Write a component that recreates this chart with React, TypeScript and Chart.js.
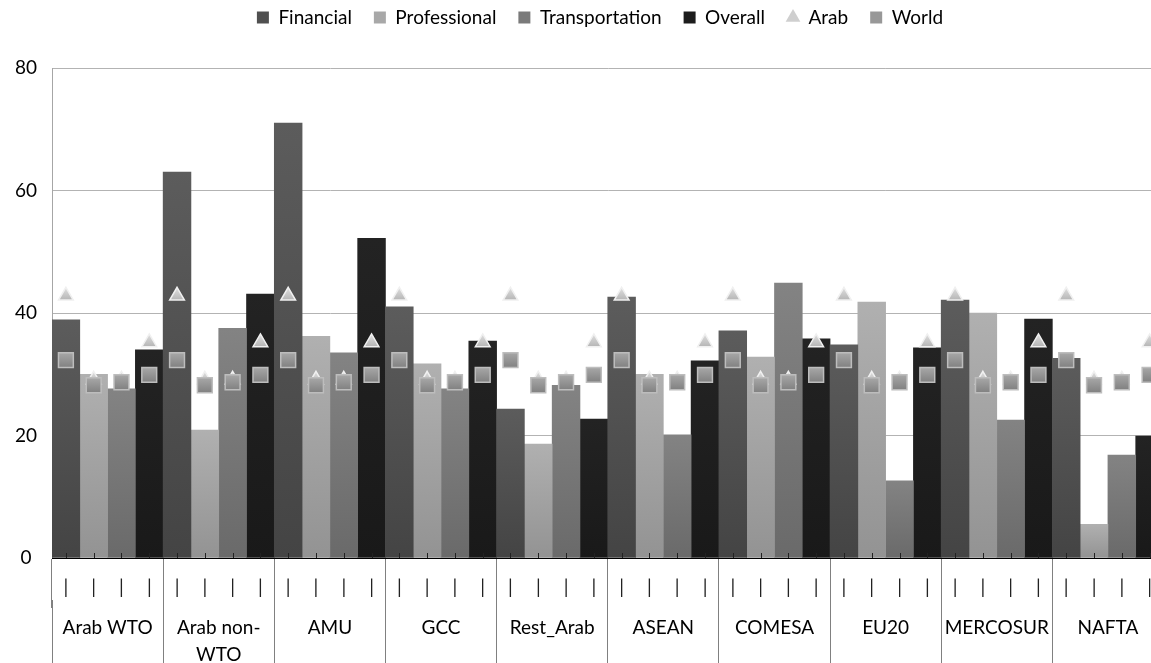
import React, { useEffect, useRef } from 'react';
import { Chart, registerables } from 'chart.js';

Chart.register(...registerables);

// ---- data ----
const groups: (string | string[])[] = [
  'Arab WTO', ['Arab non-', 'WTO'], 'AMU', 'GCC', 'Rest_Arab',
  'ASEAN', 'COMESA', 'EU20', 'MERCOSUR', 'NAFTA',
];
const sectorTicks = ['|', '|', '|', '|'];
const financial = [38.9, 63.0, 71.0, 41.0, 24.3, 42.6, 37.1, 34.8, 42.1, 32.6];
const professional = [30.0, 20.9, 36.2, 31.7, 18.6, 30.0, 32.8, 41.8, 40.0, 5.5];
const transportation = [27.6, 37.5, 33.5, 27.6, 28.2, 20.1, 44.9, 12.6, 22.5, 16.8];
const overall = [34.0, 43.1, 52.2, 35.4, 22.7, 32.2, 35.8, 34.3, 39.0, 19.9];
const arabBySector = [42.8, 29.1, 29.1, 35.2];
const worldBySector = [32.3, 28.2, 28.7, 29.9];
const yTicks = [0, 20, 40, 60, 80];

const FONT = 'Lato, "Open Sans", sans-serif';

// sub-category labels (4 per group)
const labels: string[] = [];
groups.forEach(() => sectorTicks.forEach((t) => labels.push(t)));

function bySlot(values: number[], slot: number): (number | null)[] {
  const out: (number | null)[] = [];
  values.forEach((v) => {
    for (let s = 0; s < 4; s++) out.push(s === slot ? v : null);
  });
  return out;
}
function repeatSectors(values: number[]): number[] {
  const out: number[] = [];
  groups.forEach(() => values.forEach((v) => out.push(v)));
  return out;
}

function barGrad(top: string, bottom: string) {
  return (ctx: any) => {
    const chart = ctx.chart;
    if (!chart.chartArea || ctx.type !== 'data' || ctx.raw == null) return bottom;
    const ys = chart.scales.y;
    const y1 = ys.getPixelForValue(ctx.raw);
    const y0 = ys.getPixelForValue(0);
    if (!isFinite(y1) || !isFinite(y0) || y1 === y0) return bottom;
    const g = chart.ctx.createLinearGradient(0, y1, 0, y0);
    g.addColorStop(0, top);
    g.addColorStop(1, bottom);
    return g;
  };
}
function pointGrad(top: string, bottom: string, r: number) {
  return (ctx: any) => {
    const chart = ctx.chart;
    if (!chart.chartArea || ctx.type !== 'data' || ctx.raw == null) return bottom;
    const y = chart.scales.y.getPixelForValue(ctx.raw);
    if (!isFinite(y)) return bottom;
    const g = chart.ctx.createLinearGradient(0, y - r, 0, y + r);
    g.addColorStop(0, top);
    g.addColorStop(1, bottom);
    return g;
  };
}

const legendFill = ['#505050', '#a8a8a8', '#7a7a7a', '#1c1c1c', '#cfcfcf', '#989898'];

const innerTicks = {
  id: 'innerTicks',
  afterDatasetsDraw(chart: any) {
    const x = chart.scales.x;
    const { bottom } = chart.chartArea;
    const c = chart.ctx;
    c.save();
    c.strokeStyle = '#222';
    c.lineWidth = 1;
    labels.forEach((_, i) => {
      const px = Math.round(x.getPixelForValue(i)) + 0.5;
      c.beginPath();
      c.moveTo(px, bottom - 5);
      c.lineTo(px, bottom);
      c.stroke();
    });
    c.restore();
  },
};

const legendSpace = {
  id: 'legendSpace',
  beforeInit(chart: any) {
    const legend = chart.legend;
    if (!legend) return;
    const fit = legend.fit;
    legend.fit = function () {
      fit.call(this);
      this.height = 82;
    };
  },
};

export default function App() {
  const ref = useRef<HTMLCanvasElement | null>(null);

  useEffect(() => {
    if (!ref.current) return;
    const chart = new Chart(ref.current, {
      type: 'bar',
      data: {
        labels,
        datasets: [
          {
            label: 'Financial', data: bySlot(financial, 0), order: 2,
            backgroundColor: barGrad('#5c5c5c', '#444444'),
            grouped: false, categoryPercentage: 1, barPercentage: 1, pointStyle: 'rect',
          } as any,
          {
            label: 'Professional', data: bySlot(professional, 1), order: 2,
            backgroundColor: barGrad('#b0b0b0', '#939393'),
            grouped: false, categoryPercentage: 1, barPercentage: 1, pointStyle: 'rect',
          } as any,
          {
            label: 'Transportation', data: bySlot(transportation, 2), order: 2,
            backgroundColor: barGrad('#838383', '#6a6a6a'),
            grouped: false, categoryPercentage: 1, barPercentage: 1, pointStyle: 'rect',
          } as any,
          {
            label: 'Overall', data: bySlot(overall, 3), order: 2,
            backgroundColor: barGrad('#232323', '#191919'),
            grouped: false, categoryPercentage: 1, barPercentage: 1, pointStyle: 'rect',
          } as any,
          {
            type: 'line', label: 'Arab', data: repeatSectors(arabBySector), order: 1,
            showLine: false, pointStyle: 'triangle', pointRadius: 8.5, pointHoverRadius: 8.5,
            pointBackgroundColor: pointGrad('#dedede', '#a9a9a9', 8),
            pointBorderColor: '#f0f0f0', pointBorderWidth: 1.5,
          } as any,
          {
            type: 'line', label: 'World', data: repeatSectors(worldBySector), order: 0,
            showLine: false, pointStyle: 'rect', pointRadius: 10.5, pointHoverRadius: 10.5,
            pointBackgroundColor: pointGrad('#a6a6a6', '#828282', 7),
            pointBorderColor: '#bdbdbd', pointBorderWidth: 1.5,
          } as any,
        ],
      },
      options: {
        responsive: false,
        animation: false,
        events: [],
        devicePixelRatio: 1,
        layout: { padding: { top: -14, left: 0, right: 0, bottom: 0 } },
        plugins: {
          tooltip: { enabled: false },
          legend: {
            position: 'top',
            labels: {
              usePointStyle: true,
              boxWidth: 12,
              boxHeight: 12,
              padding: 22,
              color: '#000',
              font: { family: FONT, size: 19 },
              sort: (a: any, b: any) => a.datasetIndex - b.datasetIndex,
              generateLabels: (ch: any) => {
                const items = (Chart.defaults.plugins.legend.labels as any).generateLabels(ch);
                return items.map((it: any) => ({
                  ...it,
                  fillStyle: legendFill[it.datasetIndex],
                  strokeStyle: legendFill[it.datasetIndex],
                  lineWidth: 0,
                }));
              },
            },
          },
        },
        scales: {
          x: {
            type: 'category',
            position: 'bottom',
            offset: true,
            grid: {
              offset: true,
              drawOnChartArea: false,
              drawTicks: true,
              tickLength: 50,
              color: (c: any) => (typeof c.index === 'number' && c.index % 4 === 0 ? '#808080' : 'rgba(0,0,0,0)'),
              lineWidth: 1,
            },
            border: { display: true, color: '#000', width: 1, z: 1 },
            ticks: {
              autoSkip: false, maxRotation: 0, minRotation: 0,
              padding: -31.4, color: '#222',
              font: { family: FONT, size: 19 },
            },
            afterFit: (s: any) => { s.height = 42; },
          },
          x2: {
            type: 'category',
            position: 'bottom',
            labels: groups as any,
            offset: true,
            grid: {
              offset: true,
              drawOnChartArea: false,
              drawTicks: true,
              tickLength: 80,
              color: '#808080',
              lineWidth: 1,
            },
            border: { display: false },
            ticks: {
              autoSkip: false, maxRotation: 0, minRotation: 0,
              padding: -65.5, color: '#000',
              font: { family: FONT, size: 19, lineHeight: 1.42 },
            },
            afterFit: (s: any) => { s.height = 63; },
          },
          y: {
            position: 'left',
            min: yTicks[0],
            max: yTicks[yTicks.length - 1],
            ticks: {
              stepSize: yTicks[1] - yTicks[0],
              crossAlign: 'center',
              padding: 15,
              color: '#000',
              font: { family: FONT, size: 19 },
            },
            grid: { color: '#b3b3b3', lineWidth: 1, drawTicks: false },
            border: { display: true, color: '#a6a6a6', width: 1 },
            afterFit: (s: any) => { s.width = 52; },
          },
          y2: {
            position: 'right',
            min: yTicks[0],
            max: yTicks[yTicks.length - 1],
            ticks: { display: false },
            grid: { drawOnChartArea: false, drawTicks: false },
            border: { display: false },
            afterFit: (s: any) => { s.width = 36.5; },
          },
        },
      } as any,
      plugins: [innerTicks, legendSpace],
    });
    return () => chart.destroy();
  }, []);

  return (
    <div
      style={{
        position: 'fixed', left: 0, top: 0, width: 1151, height: 663,
        overflow: 'hidden', background: '#fff',
      }}
    >
      <canvas ref={ref} width={1200} height={663} style={{ width: 1200, height: 663, display: 'block' }} />
    </div>
  );
}
